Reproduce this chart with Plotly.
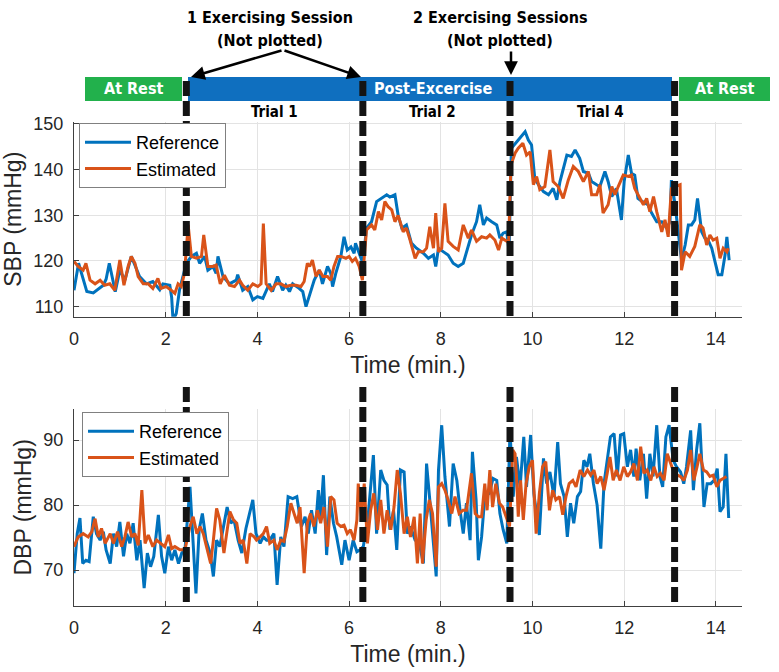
import plotly.graph_objects as go

W, H = 779, 672

# ---------------- data ----------------
sbp_ref_t = [0.00,0.10,0.28,0.42,0.64,0.70,0.77,0.90,1.00,1.11,1.25,1.43,1.58,1.72,1.87,1.94,2.09,2.13,2.16,2.23,2.30,2.38,
             2.45,2.56,2.67,2.74,2.85,2.92,3.03,3.10,3.14,3.25,3.39,3.54,3.57,3.68,3.79,3.90,4.00,4.12,4.19,4.26,4.33,4.44,
             4.55,4.62,4.70,4.77,4.91,4.99,5.06,5.17,5.24,5.35,5.42,5.53,5.60,5.64,5.71,5.82,5.89,5.96,6.04,6.11,6.14,6.22,
             6.30,6.38,6.49,6.60,6.71,6.82,6.89,7.00,7.07,7.15,7.25,7.36,7.47,7.62,7.73,7.84,7.89,7.95,8.06,8.16,8.27,8.38,
             8.49,8.56,8.67,8.78,8.85,8.93,9.00,9.11,9.22,9.29,9.36,9.44,9.49,9.54,9.65,9.84,9.91,9.98,10.05,10.13,10.24,
             10.35,10.45,10.53,10.60,10.67,10.75,10.85,10.93,11.03,11.11,11.22,11.29,11.40,11.47,11.58,11.65,11.73,11.83,
             11.94,12.00,12.09,12.16,12.23,12.30,12.40,12.52,12.60,12.71,12.82,12.93,13.00,13.03,13.11,13.18,13.25,13.33,
             13.40,13.47,13.54,13.60,13.69,13.76,13.83,13.91,13.98,14.05,14.13,14.20,14.24,14.29]
sbp_ref = [113.6,119.5,113.3,113.0,114.7,116.0,119.5,113.3,118.0,115.8,121.0,116.6,115.0,115.5,113.7,115.0,114.7,112.0,107.0,108.5,113.6,116.6,
           119.5,121.0,121.7,119.5,121.0,118.0,118.8,117.3,121.0,116.6,115.0,115.8,117.0,113.6,114.4,111.5,112.2,111.8,113.6,115.0,113.3,116.6,
           113.6,114.7,113.3,115.0,114.0,113.3,110.0,113.6,115.8,118.0,115.0,118.8,117.3,114.4,117.3,121.0,125.3,122.4,123.1,121.7,123.9,121.7,
           119.5,127.2,128.6,133.0,133.7,134.5,134.0,134.5,130.0,127.2,127.9,123.9,122.8,121.7,120.6,121.3,118.8,122.8,122.0,121.3,119.5,118.8,
           119.5,122.0,125.7,128.6,132.3,127.9,129.4,128.6,127.9,125.0,126.1,126.4,122.0,144.7,146.1,148.3,146.5,145.4,138.1,136.7,135.2,
           134.5,135.9,133.4,137.4,140.3,143.2,142.9,144.3,142.5,139.6,139.2,137.4,136.7,136.3,139.6,137.4,134.1,135.9,
           129.0,137.4,143.2,139.2,138.8,133.7,133.0,132.3,130.5,128.6,128.6,127.2,128.6,137.7,132.3,126.4,120.2,123.5,
           127.9,127.9,129.0,133.7,126.4,125.0,124.6,122.8,119.9,117.0,117.0,121.3,125.3,120.2]

sbp_est_t = [0.00,0.09,0.20,0.26,0.35,0.46,0.57,0.67,0.78,0.89,1.00,1.09,1.18,1.25,1.33,1.40,1.51,1.62,1.72,1.83,1.90,2.01,2.12,2.20,
             2.27,2.34,2.41,2.49,2.56,2.67,2.78,2.83,2.92,3.03,3.10,3.19,3.28,3.39,3.50,3.61,3.68,3.79,3.90,4.01,4.08,4.13,4.19,
             4.30,4.41,4.51,4.62,4.73,4.84,4.95,5.02,5.09,5.14,5.20,5.28,5.35,5.43,5.53,5.60,5.67,5.75,5.82,5.93,6.00,6.07,6.14,
             6.22,6.29,6.38,6.49,6.56,6.64,6.71,6.78,6.85,6.93,7.00,7.07,7.18,7.25,7.33,7.44,7.51,7.62,7.69,7.76,7.84,7.89,7.95,
             8.02,8.09,8.16,8.27,8.38,8.49,8.60,8.67,8.78,8.89,9.00,9.07,9.18,9.26,9.33,9.44,9.48,9.53,9.62,9.69,9.79,9.87,9.95,
             10.02,10.09,10.16,10.27,10.38,10.45,10.56,10.67,10.78,10.89,11.00,11.11,11.22,11.29,11.40,11.47,11.54,11.65,11.73,
             11.80,11.87,11.98,12.09,12.16,12.23,12.31,12.42,12.49,12.56,12.64,12.71,12.82,12.89,12.96,13.03,13.11,13.22,13.25,
             13.33,13.43,13.54,13.65,13.72,13.80,13.87,13.94,14.02,14.09,14.16,14.24,14.27]
sbp_est = [119.9,118.8,118.0,119.5,115.8,115.0,115.8,114.7,115.0,113.6,120.2,114.7,118.8,121.0,119.5,116.6,115.0,115.0,114.0,116.2,114.0,114.4,113.6,112.9,
           115.0,114.4,117.3,127.9,121.0,120.6,121.0,125.7,118.8,118.8,119.1,115.0,116.9,114.7,114.4,115.8,114.7,113.6,115.0,114.4,115.0,128.2,115.0,
           113.6,115.0,115.0,114.4,114.7,114.7,114.4,115.5,119.5,118.8,120.2,116.6,118.0,116.6,116.6,115.8,118.8,121.0,121.0,120.6,121.0,119.9,120.6,
           118.8,115.8,126.8,127.9,126.8,130.8,129.0,133.0,131.9,131.2,128.6,130.0,126.4,127.2,124.6,120.6,122.0,122.0,122.8,127.5,122.8,130.5,122.0,
           122.8,132.6,124.3,123.2,122.4,127.9,125.0,126.8,124.3,125.3,125.0,125.7,124.6,122.4,125.0,124.3,124.0,141.0,143.6,144.7,145.8,143.2,143.9,
           136.7,138.5,135.6,136.3,144.3,137.4,136.3,133.7,137.7,140.7,139.6,137.4,139.6,134.5,134.5,136.7,130.5,132.3,136.3,
           134.5,136.3,138.8,138.5,138.8,135.9,134.5,132.3,133.7,130.8,134.1,130.8,126.4,129.0,125.3,135.9,136.3,136.7,118.0,
           122.0,121.0,123.2,127.9,127.2,123.5,125.7,124.6,125.0,120.6,122.8,122.0,122.8]

dbp_ref_t = [0.00,0.07,0.13,0.19,0.26,0.33,0.42,0.49,0.57,0.64,0.70,0.79,0.86,0.93,1.00,1.08,1.15,1.22,1.29,1.37,1.44,1.53,1.60,1.67,
             1.74,1.84,1.91,1.98,2.06,2.13,2.20,2.28,2.35,2.42,2.53,2.60,2.66,2.73,2.80,2.88,2.97,3.04,3.11,3.18,3.26,3.34,3.42,
             3.49,3.58,3.66,3.75,3.82,3.90,3.97,4.06,4.13,4.20,4.27,4.36,4.43,4.51,4.58,4.67,4.77,4.86,4.96,5.04,5.11,5.18,5.26,
             5.33,5.38,5.44,5.51,5.58,5.66,5.73,5.84,5.91,6.00,6.09,6.17,6.24,6.31,6.42,6.53,6.60,6.69,6.76,6.83,6.89,6.97,7.04,
             7.12,7.20,7.27,7.34,7.44,7.53,7.62,7.69,7.76,7.84,7.90,7.95,8.02,8.09,8.19,8.27,8.35,8.42,8.49,8.56,8.64,8.69,8.77,
             8.82,8.89,8.96,9.06,9.14,9.22,9.29,9.36,9.44,9.51,9.58,9.65,9.73,9.81,9.87,9.96,10.03,10.15,10.24,10.31,10.38,10.47,
             10.55,10.61,10.69,10.76,10.83,10.90,10.98,11.05,11.12,11.19,11.25,11.33,11.41,11.49,11.56,11.63,11.70,11.78,11.85,
             11.92,11.99,12.07,12.14,12.21,12.26,12.34,12.42,12.49,12.56,12.63,12.71,12.78,12.84,12.91,12.98,13.07,13.14,13.23,
             13.30,13.36,13.45,13.51,13.58,13.65,13.74,13.81,13.89,13.96,14.03,14.09,14.16,14.22,14.28]
dbp_ref = [69.5,75.6,78.0,71.0,71.5,71.3,78.2,75.6,74.6,75.9,73.1,71.0,75.6,73.6,77.4,72.1,75.6,74.1,77.2,71.5,74.6,67.2,72.6,70.5,
           72.1,78.5,72.1,69.5,73.6,71.5,73.1,71.0,72.6,73.1,82.8,74.6,66.4,76.2,78.7,74.6,72.6,69.0,74.6,73.6,76.7,79.7,77.2,
           77.7,74.6,72.6,76.4,78.7,80.8,75.6,74.1,75.1,74.6,74.6,75.6,67.7,75.1,73.6,81.3,81.0,81.3,76.7,78.2,75.6,79.2,75.6,
           82.3,78.2,84.6,72.3,81.3,77.2,75.1,70.8,74.6,71.5,74.6,72.8,73.1,73.6,78.7,87.7,75.6,85.4,83.8,83.1,76.2,79.2,73.1,
           85.4,85.1,75.6,76.7,74.6,74.1,71.0,86.4,80.8,74.1,69.0,85.4,92.3,84.4,76.7,86.4,83.8,79.2,75.6,80.3,74.6,88.2,80.8,
           71.5,75.1,81.3,81.8,84.1,83.8,78.7,76.2,74.1,91.5,81.3,87.4,82.8,90.5,82.8,90.8,81.8,75.4,87.2,83.3,85.1,81.3,
           89.7,83.3,81.3,75.1,80.3,77.2,81.3,82.1,86.9,85.9,87.9,83.3,80.0,73.3,83.3,87.2,90.5,91.0,84.4,
           90.8,91.0,85.9,88.5,84.4,88.7,83.8,87.9,81.0,87.9,84.4,92.3,84.4,82.8,90.5,92.3,86.9,85.9,85.1,
           83.3,85.9,91.5,82.3,88.5,92.6,79.7,83.3,83.3,83.8,85.6,79.0,79.7,87.9,78.0]

dbp_est_t = [0.00,0.09,0.20,0.31,0.39,0.46,0.53,0.60,0.68,0.79,0.86,0.95,1.04,1.11,1.18,1.26,1.33,1.40,1.48,1.55,1.62,1.72,1.80,1.89,
             1.98,2.06,2.13,2.20,2.31,2.42,2.53,2.60,2.68,2.75,2.82,2.89,2.98,3.04,3.11,3.18,3.27,3.33,3.40,3.48,3.55,3.62,3.69,
             3.77,3.84,3.93,3.98,4.06,4.13,4.20,4.27,4.36,4.43,4.51,4.58,4.65,4.73,4.80,4.87,4.93,5.02,5.09,5.16,5.23,5.31,5.38,
             5.45,5.53,5.60,5.67,5.74,5.82,5.89,5.96,6.03,6.11,6.17,6.20,6.27,6.33,6.40,6.47,6.54,6.62,6.69,6.76,6.83,6.91,6.98,
             7.05,7.12,7.20,7.27,7.34,7.42,7.49,7.55,7.60,7.68,7.75,7.82,7.90,7.95,8.02,8.09,8.16,8.24,8.31,8.40,8.48,8.56,8.67,
             8.75,8.82,8.89,8.96,9.01,9.07,9.13,9.20,9.28,9.35,9.42,9.50,9.57,9.62,9.66,9.69,9.74,9.80,9.86,9.93,10.00,10.08,
             10.15,10.22,10.29,10.37,10.44,10.51,10.59,10.66,10.73,10.80,10.88,10.95,11.04,11.12,11.20,11.27,11.34,11.41,11.49,
             11.56,11.63,11.69,11.76,11.83,11.91,11.99,12.07,12.14,12.21,12.29,12.36,12.43,12.50,12.58,12.65,12.72,12.79,12.87,
             12.94,13.01,13.09,13.16,13.23,13.30,13.38,13.45,13.52,13.59,13.65,13.73,13.80,13.87,13.94,14.02,14.09,14.16,14.23]
dbp_est = [73.6,75.1,75.6,75.1,75.9,77.9,75.1,76.4,74.1,75.6,74.1,75.9,73.6,75.1,77.4,75.1,75.6,73.8,82.3,74.1,75.4,73.6,74.6,74.1,
           73.6,75.4,73.3,73.6,73.1,73.1,76.7,78.2,75.6,76.7,75.6,73.6,71.0,74.6,79.5,77.7,72.6,75.6,79.0,77.7,77.2,74.1,74.6,
           71.0,75.6,75.1,74.6,75.1,75.6,76.7,74.1,74.6,73.1,74.6,74.4,76.7,80.3,78.7,77.2,79.7,69.5,77.2,78.7,76.7,79.2,77.2,
           79.7,73.6,81.3,80.8,77.2,76.7,76.9,75.6,76.2,74.6,77.7,83.3,78.2,83.3,74.1,79.2,81.8,76.2,80.8,75.6,79.2,76.2,79.7,
           85.4,81.8,75.6,78.2,75.1,78.2,71.0,78.7,71.0,77.7,80.8,78.7,70.5,82.8,83.3,82.3,80.8,78.7,81.3,78.7,79.2,79.2,84.9,
           78.7,78.2,78.2,83.3,79.2,85.4,79.7,83.3,80.3,79.7,78.2,76.7,88.5,87.9,83.3,78.2,83.8,77.7,83.3,85.9,86.9,75.6,
           81.8,85.9,86.7,79.2,82.3,80.8,81.3,78.5,81.3,83.3,83.8,82.8,85.4,84.4,85.4,84.6,85.4,83.3,84.4,
           82.3,84.9,87.4,83.8,85.4,83.8,85.9,84.4,85.1,86.4,83.8,89.0,84.9,85.4,83.8,85.9,84.4,84.9,83.8,
           87.9,86.4,84.9,84.6,84.4,83.8,85.4,88.5,83.8,85.9,87.9,85.4,85.1,84.4,84.6,82.8,83.8,84.1,84.4]

x_ticks = [0, 2, 4, 6, 8, 10, 12, 14]
sbp_ticks = [110, 120, 130, 140, 150]
dbp_ticks = [70, 80, 90]
dividers = [2.45, 6.30, 9.51, 13.10]
series_names = ["Reference", "Estimated"]

# ---------------- styling ----------------
BLUE = "#0072BD"
ORANGE = "#D95319"
AXFONT = "Liberation Sans, Arial, Helvetica, sans-serif"
BANNERFONT = "Liberation Sans Narrow, Arial Narrow, DejaVu Sans Condensed, sans-serif"
TXT = "#262626"


def px(x):
    return x / W


def py(y):
    return 1 - y / H


fig = go.Figure()

for (t, v, nm, col) in [(sbp_ref_t, sbp_ref, series_names[0], BLUE), (sbp_est_t, sbp_est, series_names[1], ORANGE)]:
    fig.add_trace(go.Scatter(x=t, y=v, mode="lines", name=nm, line=dict(color=col, width=3),
                             xaxis="x", yaxis="y", legend="legend"))
for (t, v, nm, col) in [(dbp_ref_t, dbp_ref, series_names[0], BLUE), (dbp_est_t, dbp_est, series_names[1], ORANGE)]:
    fig.add_trace(go.Scatter(x=t, y=v, mode="lines", name=nm, line=dict(color=col, width=3),
                             xaxis="x2", yaxis="y2", legend="legend2"))

xdom = [px(74), px(742)]
xrange_ = [0, 14.57]

TICKFONT = dict(size=18, family=AXFONT, color=TXT)
TFONT = dict(size=23, family=AXFONT, color=TXT)

common_x = dict(range=xrange_, tickvals=x_ticks, showgrid=True, gridcolor="#e3e3e3", gridwidth=1,
                showline=True, linecolor="#404040", linewidth=1, ticks="inside", ticklen=5,
                tickcolor="#404040", zeroline=False, tickfont=TICKFONT,
                automargin=False, ticklabelstandoff=6,
                title=dict(text="Time (min.)", font=TFONT, standoff=8))
common_y = dict(showgrid=True, gridcolor="#e3e3e3", gridwidth=1, showline=True, linecolor="#404040",
                linewidth=1, ticks="inside", ticklen=5, tickcolor="#404040", zeroline=False,
                automargin=False, ticklabelstandoff=6, tickfont=TICKFONT)

LEGFONT = dict(size=18, family=AXFONT, color="black")

fig.update_layout(
    width=W, height=H, margin=dict(l=0, r=0, t=0, b=0, autoexpand=False),
    paper_bgcolor="white", plot_bgcolor="white",
    xaxis=dict(domain=xdom, anchor="y", **common_x),
    yaxis=dict(domain=[py(316.7), py(121.7)], range=[107.8, 150.5], tickvals=sbp_ticks, anchor="x",
               title=dict(text="SBP (mmHg)", font=TFONT, standoff=5), **common_y),
    xaxis2=dict(domain=xdom, anchor="y2", **common_x),
    yaxis2=dict(domain=[py(605.7), py(409)], range=[64.5, 94.8], tickvals=dbp_ticks, anchor="x2",
                title=dict(text="DBP (mmHg)", font=TFONT, standoff=5), **common_y),
    legend=dict(x=px(79), y=py(123), xanchor="left", yanchor="top", bgcolor="white", bordercolor="#808080",
                borderwidth=1, font=LEGFONT, tracegroupgap=0, itemwidth=46),
    legend2=dict(x=px(82), y=py(412), xanchor="left", yanchor="top", bgcolor="white", bordercolor="#808080",
                 borderwidth=1, font=LEGFONT, tracegroupgap=0, itemwidth=46),
    showlegend=True,
)

shapes = []
# banner boxes
GREEN = "#22B14C"
BARBLUE = "#0F6FBF"
ytop, ybot = py(77), py(101)
shapes.append(dict(type="rect", xref="paper", yref="paper", x0=px(85), x1=px(182), y0=ybot, y1=ytop,
                   fillcolor=GREEN, line=dict(width=0), layer="above"))
shapes.append(dict(type="rect", xref="paper", yref="paper", x0=px(188), x1=px(672), y0=ybot, y1=ytop,
                   fillcolor=BARBLUE, line=dict(width=0), layer="above"))
shapes.append(dict(type="rect", xref="paper", yref="paper", x0=px(679), x1=px(770), y0=ybot, y1=ytop,
                   fillcolor=GREEN, line=dict(width=0), layer="above"))
# dashed dividers
for d in dividers:
    shapes.append(dict(type="line", xref="x", yref="paper", x0=d, x1=d, y0=py(316), y1=py(78),
                       line=dict(color="#141414", width=7, dash="15px,5px"), layer="above"))
    shapes.append(dict(type="line", xref="x2", yref="paper", x0=d, x1=d, y0=py(602), y1=py(387),
                       line=dict(color="#141414", width=7, dash="15px,5px"), layer="above"))
fig.update_layout(shapes=shapes)

ann = []


def txt(x, y, s, size=17, color="black", bold=True):
    ann.append(dict(xref="paper", yref="paper", x=px(x), y=py(y), text=f"<b>{s}</b>" if bold else s,
                    showarrow=False, xanchor="center", yanchor="middle",
                    font=dict(size=size, family=BANNERFONT, color=color)))


txt(133, 89, "At Rest", 16, "white")
txt(433, 89, "Post-Excercise", 16, "white")
txt(724, 89, "At Rest", 16, "white")
txt(270, 17, "1 Exercising Session", 16)
txt(270, 40, "(Not plotted)", 16)
txt(500, 17, "2 Exercising Sessions", 16)
txt(500, 40, "(Not plotted)", 16)
txt(274, 112, "Trial 1", 15)
txt(432, 112, "Trial 2", 15)
txt(600, 112, "Trial 4", 15)


def arrow(hx, hy, tx, ty):
    ann.append(dict(xref="paper", yref="paper", x=px(hx), y=py(hy), ax=tx - hx, ay=ty - hy,
                    text="", showarrow=True, arrowhead=2, arrowsize=1.1, arrowwidth=2.5,
                    arrowcolor="black"))


arrow(191, 77, 283, 50)
arrow(361, 77, 283, 50)
arrow(511, 75, 511, 50)

fig.update_layout(annotations=ann)

fig.write_html("out.html", config={"displayModeBar": False},
               post_script="document.body.style.margin='0';document.body.style.padding='0';")
